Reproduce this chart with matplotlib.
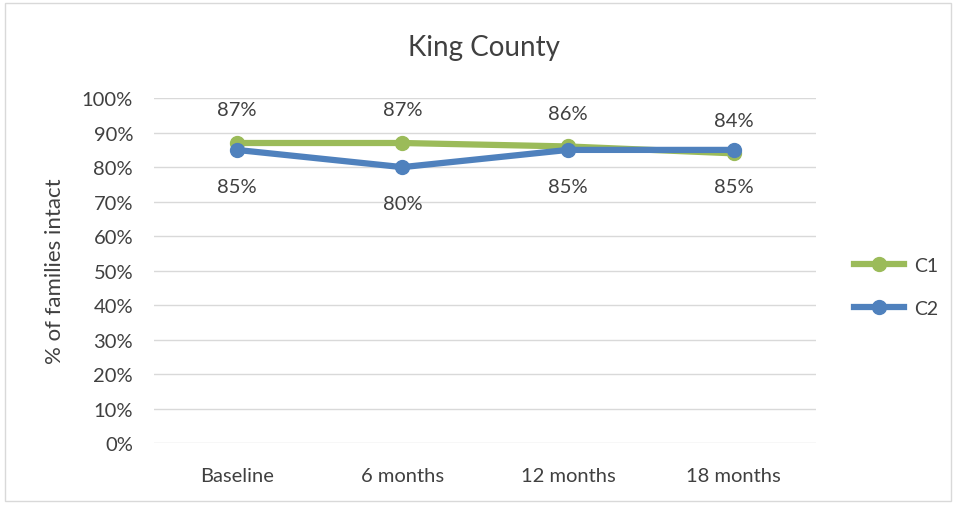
import matplotlib
matplotlib.use("Agg")
import matplotlib.pyplot as plt
from matplotlib.patches import Rectangle

categories = ["Baseline", "6 months", "12 months", "18 months"]
c1 = [0.87, 0.87, 0.86, 0.84]
c2 = [0.85, 0.80, 0.85, 0.85]
yticks = [i / 10 for i in range(11)]

plt.rcParams['font.family'] = ['Lato', 'DejaVu Sans']
txt = '#404040'

fig = plt.figure(figsize=(9.56, 5.06), dpi=100)
fig.patches.append(Rectangle((0.005, 0.008), 0.99, 0.984, transform=fig.transFigure,
                             fill=False, edgecolor='#D9D9D9', linewidth=1))
ax = fig.add_axes([0.161, 0.1225, 0.693, 0.6815])
x = list(range(len(categories)))
ax.plot(x, c1, color='#9BBB59', linewidth=4.5, marker='o', markersize=10, label='C1', zorder=3)
ax.plot(x, c2, color='#4F81BD', linewidth=4.5, marker='o', markersize=10, label='C2', zorder=4)
for xi, v in zip(x, c1):
    ax.annotate(f"{round(v*100)}%", (xi, v), xytext=(0, 24), textcoords='offset points',
                ha='center', va='center', fontsize=14.5, color=txt)
for xi, v in zip(x, c2):
    ax.annotate(f"{round(v*100)}%", (xi, v), xytext=(0, -26), textcoords='offset points',
                ha='center', va='center', fontsize=14.5, color=txt)

ax.set_xlim(-0.5, len(categories) - 0.5)
ax.set_ylim(0, 1.0)
ax.set_yticks(yticks)
ax.set_yticklabels([f"{int(round(t*100))}%" for t in yticks])
ax.set_xticks(x)
ax.set_xticklabels(categories)
ax.tick_params(axis='both', length=0, labelsize=14.5, labelcolor=txt)
ax.tick_params(axis='x', pad=17)
ax.tick_params(axis='y', pad=15)
ax.grid(axis='y', color='#D9D9D9', linewidth=1)
ax.set_axisbelow(True)
for s in ax.spines.values():
    s.set_visible(False)
ax.set_ylabel('% of families intact', fontsize=16, color=txt, labelpad=12)
fig.text(0.506, 0.905, 'King County', ha='center', va='center', fontsize=20, color=txt)
ax.legend(loc='center left', bbox_to_anchor=(1.03, 0.452), frameon=False, fontsize=14,
          labelcolor=txt, handlelength=2.6, handletextpad=0.5, labelspacing=1.35)
fig.savefig('out.png', dpi=100)
